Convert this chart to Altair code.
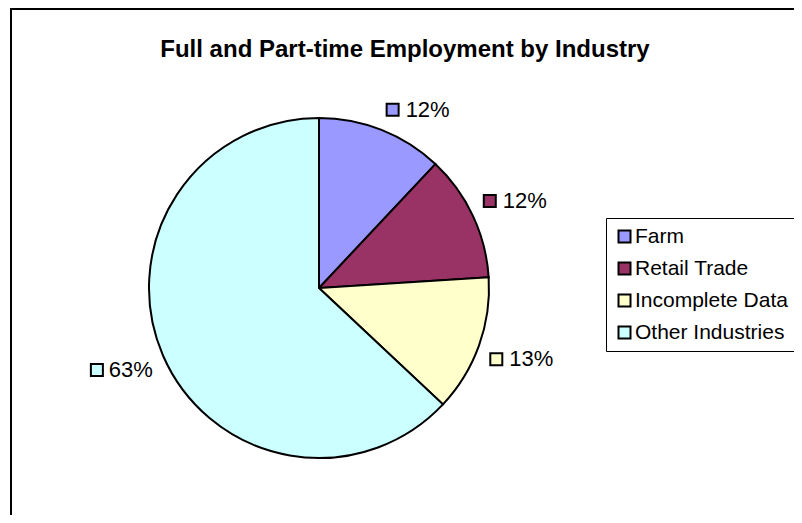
import altair as alt
import pandas as pd

# ---- data ----
industries = ["Farm", "Retail Trade", "Incomplete Data", "Other Industries"]
shares = [12, 12, 13, 63]
colors = ["#9999FF", "#993366", "#FFFFCC", "#CCFFFF"]
title_text = "Full and Part-time Employment by Industry"

df = pd.DataFrame({
    "industry": industries,
    "share": shares,
    "idx": list(range(len(industries))),
})

# ---- layout (plot-area pixels) ----
W, H = 784, 507
CX, CY = 309, 280
R_PIE = 170
R_LAB = 181      # radius where the nearest corner of a label box sits
HALF_H = 10      # half height of a label box
FONT = "Liberation Sans"

color_scale = alt.Scale(domain=industries, range=colors)

legend = alt.Legend(
    title=None, orient="none", legendX=596, legendY=210,
    padding=8, rowPadding=10, strokeColor="black", fillColor="white",
    symbolType="square", symbolSize=144, symbolStrokeColor="black",
    symbolStrokeWidth=2, symbolOpacity=1, labelFontSize=21, labelFont=FONT,
    labelColor="black", labelOffset=0, labelLimit=0,
)

base = alt.Chart(df)

pie = base.mark_arc(outerRadius=R_PIE, stroke="black", strokeWidth=2).encode(
    theta=alt.Theta("share:Q", stack=True),
    order=alt.Order("idx:Q"),
    color=alt.Color("industry:N", scale=color_scale, sort=industries, legend=legend),
    x=alt.value(CX),
    y=alt.value(CY),
)

lab = base.transform_joinaggregate(
    total="sum(share)"
).transform_window(
    cum="sum(share)", sort=[alt.SortField("idx")], frame=[None, 0]
).transform_calculate(
    mid="(datum.cum - datum.share / 2) / datum.total * 2 * PI",
    ax=f"{CX} + {R_LAB} * sin(datum.mid)",
    cy0=f"{CY} - {R_LAB} * cos(datum.mid)",
    right="datum.mid < PI ? 1 : 0",
    label="datum.share + '%'",
).transform_calculate(
    ay=f"cos(datum.mid) > 0 ? datum.cy0 - {HALF_H} : datum.cy0 + {HALF_H}",
    sqx="datum.right == 1 ? datum.ax + 7 : datum.ax - 56",
)

xpos = alt.X("ax:Q", scale=None, axis=None)
ypos = alt.Y("ay:Q", scale=None, axis=None)

text_right = lab.transform_filter("datum.right == 1").mark_text(
    align="left", baseline="middle", dx=20, fontSize=22, font=FONT, color="black"
).encode(x=xpos, y=ypos, text="label:N")

text_left = lab.transform_filter("datum.right == 0").mark_text(
    align="right", baseline="middle", fontSize=22, font=FONT, color="black"
).encode(x=xpos, y=ypos, text="label:N")

squares = lab.mark_square(size=144, stroke="black", strokeWidth=2, opacity=1, filled=True).encode(
    x=alt.X("sqx:Q", scale=None, axis=None),
    y=ypos,
    color=alt.Color("industry:N", scale=color_scale, sort=industries, legend=legend),
)

title = alt.Chart(pd.DataFrame({"t": [title_text]})).mark_text(
    fontSize=24, fontWeight="bold", font=FONT, align="center",
    baseline="alphabetic", color="black"
).encode(x=alt.value(395), y=alt.value(49), text="t:N")

frame_df = pd.DataFrame({"a": [0]})
top_border = alt.Chart(frame_df).mark_rule(color="black", strokeWidth=2).encode(
    x=alt.value(0), x2=alt.value(W), y=alt.value(1)
)
left_border = alt.Chart(frame_df).mark_rule(color="black", strokeWidth=2).encode(
    x=alt.value(1), y=alt.value(0), y2=alt.value(H)
)

chart = alt.layer(
    top_border, left_border, pie, squares, text_right, text_left, title
).properties(
    width=W, height=H, autosize="none",
    padding={"left": 2, "top": 0, "right": 0, "bottom": 0},
    background="white",
).configure_view(stroke=None)

chart.save("out.html", embed_options={"renderer": "svg", "actions": False})
